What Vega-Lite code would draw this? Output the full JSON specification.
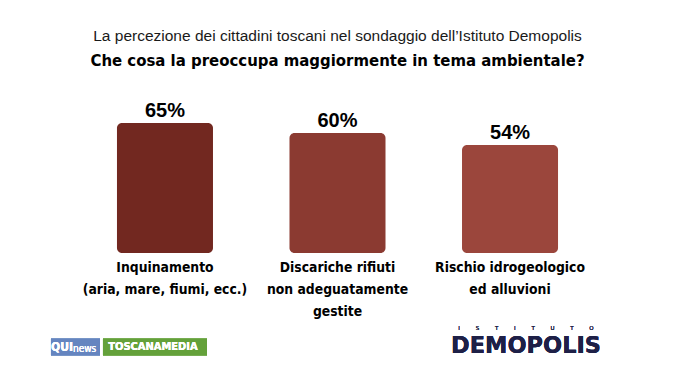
{
  "$schema": "https://vega.github.io/schema/vega-lite/v6.json",
  "width": 675,
  "height": 380,
  "autosize": "none",
  "padding": 0,
  "background": "white",
  "config": {"view": {"stroke": null}},
  "title": {
    "text": "La percezione dei cittadini toscani nel sondaggio dell’Istituto Demopolis",
    "subtitle": "Che cosa la preoccupa maggiormente in tema ambientale?",
    "anchor": "middle",
    "frame": "group",
    "font": "Liberation Sans",
    "fontSize": 15.5,
    "fontWeight": "normal",
    "color": "#1a1a1a",
    "subtitleFont": "DejaVu Sans Condensed",
    "subtitleFontSize": 16.6,
    "subtitleFontWeight": "bold",
    "subtitleColor": "#000000",
    "subtitlePadding": 9,
    "offset": -70
  },
  "data": {
    "values": [
      {"voce": "Inquinamento\n(aria, mare, fiumi, ecc.)", "valore": 0.65},
      {"voce": "Discariche rifiuti\nnon adeguatamente\ngestite", "valore": 0.60},
      {"voce": "Rischio idrogeologico\ned alluvioni", "valore": 0.54}
    ]
  },
  "encoding": {
    "x": {"field": "voce", "type": "nominal", "sort": null, "axis": null,
          "scale": {"paddingInner": 0.4435, "paddingOuter": 0.678}},
    "y": {"field": "valore", "type": "quantitative", "axis": null,
          "scale": {"domain": [-0.635, 1.265], "nice": false, "zero": false}}
  },
  "layer": [
    {
      "mark": {"type": "bar", "cornerRadius": 5},
      "encoding": {
        "y2": {"datum": 0},
        "color": {"field": "voce", "type": "nominal", "sort": null, "legend": null,
                  "scale": {"range": ["#722820", "#8b3a31", "#9b463c"]}}
      }
    },
    {
      "mark": {"type": "text", "baseline": "alphabetic", "dy": -6, "font": "Liberation Sans", "fontSize": 20, "fontWeight": "bold", "color": "#000000"},
      "encoding": {"text": {"field": "valore", "type": "quantitative", "format": ".0%"}}
    },
    {
      "mark": {"type": "text", "baseline": "top", "dy": 8, "lineBreak": "\n", "lineHeight": 22, "font": "DejaVu Sans Condensed", "fontSize": 13.8, "fontWeight": "bold", "color": "#000000"},
      "encoding": {"y": {"datum": 0}, "text": {"field": "voce", "type": "nominal"}}
    },
    {
      "mark": {"type": "point", "shape": "M-1,-0.347H1V0.347H-1Z", "filled": true, "opacity": 1, "size": 2401, "color": "#6585c0"},
      "encoding": {"x": {"datum": "Inquinamento\n(aria, mare, fiumi, ecc.)"}, "xOffset": {"value": -41.5}, "y": {"datum": -0.47}}
    },
    {
      "mark": {"type": "text", "text": "QUI", "font": "DejaVu Sans Condensed", "fontWeight": "bold", "fontSize": 12, "color": "#ffffff", "baseline": "middle", "align": "left", "dx": -114},
      "encoding": {"x": {"datum": "Inquinamento\n(aria, mare, fiumi, ecc.)"}, "y": {"datum": -0.47}}
    },
    {
      "mark": {"type": "text", "text": "news", "font": "DejaVu Sans Condensed", "fontSize": 10, "color": "#ffffff", "baseline": "middle", "align": "left", "dx": -92, "dy": 2},
      "encoding": {"x": {"datum": "Inquinamento\n(aria, mare, fiumi, ecc.)"}, "y": {"datum": -0.47}}
    },
    {
      "mark": {"type": "point", "shape": "M-1,-0.163H1V0.163H-1Z", "filled": true, "opacity": 1, "size": 10816, "color": "#64a13a"},
      "encoding": {"x": {"datum": "Inquinamento\n(aria, mare, fiumi, ecc.)"}, "xOffset": {"value": 38}, "y": {"datum": -0.47}}
    },
    {
      "mark": {"type": "text", "text": "TOSCANAMEDIA", "font": "DejaVu Sans Condensed", "fontWeight": "bold", "fontSize": 11, "color": "#ffffff", "baseline": "middle", "dx": -12},
      "encoding": {"x": {"datum": "Inquinamento\n(aria, mare, fiumi, ecc.)"}, "y": {"datum": -0.47}}
    },
    {
      "mark": {"type": "text", "text": "DEMOPOLIS", "font": "DejaVu Sans", "fontWeight": "bold", "fontSize": 22.5, "color": "#1e2047", "baseline": "alphabetic", "dx": 16},
      "encoding": {"x": {"datum": "Rischio idrogeologico\ned alluvioni"}, "y": {"datum": -0.5}}
    },
    {
      "mark": {"type": "text", "text": "I\u00a0\u00a0\u00a0\u00a0\u00a0\u00a0\u00a0\u00a0\u00a0S\u00a0\u00a0\u00a0\u00a0\u00a0\u00a0\u00a0\u00a0\u00a0T\u00a0\u00a0\u00a0\u00a0\u00a0\u00a0\u00a0\u00a0\u00a0I\u00a0\u00a0\u00a0\u00a0\u00a0\u00a0\u00a0\u00a0\u00a0T\u00a0\u00a0\u00a0\u00a0\u00a0\u00a0\u00a0\u00a0\u00a0U\u00a0\u00a0\u00a0\u00a0\u00a0\u00a0\u00a0\u00a0\u00a0T\u00a0\u00a0\u00a0\u00a0\u00a0\u00a0\u00a0\u00a0\u00a0O", "font": "DejaVu Sans", "fontSize": 5.5, "color": "#1e2047", "baseline": "alphabetic", "dx": 16},
      "encoding": {"x": {"datum": "Rischio idrogeologico\ned alluvioni"}, "y": {"datum": -0.385}}
    }
  ]
}
